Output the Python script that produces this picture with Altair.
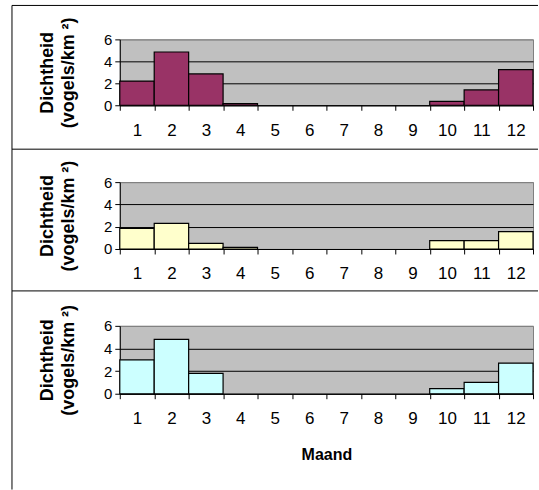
import altair as alt
import pandas as pd

# Maandelijkse dichtheid (vogels/km²) voor drie gebieden
maand = list(range(1, 13))
dichtheid_a = [2.2, 4.85, 2.85, 0.15, 0, 0, 0, 0, 0, 0.35, 1.4, 3.25]
dichtheid_b = [1.85, 2.3, 0.5, 0.15, 0, 0, 0, 0, 0, 0.75, 0.75, 1.55]
dichtheid_c = [3.0, 4.8, 1.8, 0, 0, 0, 0, 0, 0, 0.45, 1.0, 2.7]
kleuren = ["#993366", "#FFFFCC", "#CCFFFF"]

y_waarden = [0, 2, 4, 6]
x_grenzen = [m - 0.5 for m in maand] + [12.5]   # maatstrepen op de maandgrenzen
y_titel = ["Dichtheid", "(vogels/km ²)"]

FONT = "Liberation Sans"
BREEDTE = 414


def paneel(waarden, kleur, hoogte, kader_boven, kader_onder, x_titel):
    df = pd.DataFrame({"maand": maand, "dichtheid": waarden})

    x_axis = alt.Axis(
        values=x_grenzen,
        # label midden onder de maand; de rechtergrens krijgt geen label
        labelExpr="datum.value < 12 ? format(datum.value + 0.5, 'd') : ''",
        labelOffset=alt.condition("datum.value < 12", alt.value(BREEDTE / 24), alt.value(0)),
        labelFontSize=17,
        labelPadding=12,
        labelOverlap=False,
        labelFlush=False,
        tickSize=5,
        grid=False,
        titleFontSize=16,
        titleFontWeight="bold",
        titlePadding=20,
    )
    y_axis = alt.Axis(
        values=y_waarden,
        labelFontSize=15,
        labelPadding=3,
        tickSize=5,
        grid=True,
        gridColor=alt.condition("datum.value == 6", alt.value("#808080"), alt.value("black")),
        gridWidth=1,
        titleFontSize=18,
        titleFontWeight="bold",
        titleLineHeight=21,
        titlePadding=26,
    )

    x_schaal = alt.Scale(domain=[0.5, 12.5], nice=False, zero=False)
    if x_titel:
        x_enc = alt.X("begin:Q", scale=x_schaal, axis=x_axis, title=x_titel)
    else:
        x_enc = alt.X("begin:Q", scale=x_schaal, axis=x_axis, title=None)

    staven = (
        alt.Chart(df)
        .transform_filter("datum.dichtheid > 0")
        .transform_calculate(begin="datum.maand - 0.5", eind="datum.maand + 0.5")
        .mark_bar(fill=kleur, stroke="black", strokeWidth=1.2)
        .encode(
            x=x_enc,
            x2="eind:Q",
            y=alt.Y("dichtheid:Q", scale=alt.Scale(domain=[0, 6], nice=False),
                    axis=y_axis, title=y_titel),
            y2=alt.datum(0),
        )
    )

    # kader rond het paneel: bovenrand en linkerrand
    een = pd.DataFrame({"k": [0]})
    boven = alt.Chart(een).mark_rule(color="black", strokeWidth=1).encode(
        x=alt.value(-108), x2=alt.value(419), y=alt.value(kader_boven)
    )
    links = alt.Chart(een).mark_rule(color="black", strokeWidth=1).encode(
        x=alt.value(-108), y=alt.value(kader_boven), y2=alt.value(kader_onder)
    )
    return alt.layer(staven, boven, links).properties(width=BREEDTE, height=hoogte)


p1 = paneel(dichtheid_a, kleuren[0], 66, -34, 110, None)
p2 = paneel(dichtheid_b, kleuren[1], 67, -33, 109, None)
p3 = paneel(dichtheid_c, kleuren[2], 68, -35, 164, "Maand")

chart = (
    alt.vconcat(p1, p2, p3, spacing=77, bounds="flush")
    .properties(padding={"left": 11, "top": 4, "right": 0, "bottom": 0}, background="white")
    .configure_view(fill="#C0C0C0", stroke="#808080", strokeWidth=1)
    .configure_axis(
        labelFont=FONT,
        titleFont=FONT,
        labelColor="black",
        titleColor="black",
        domainColor="black",
        tickColor="black",
        domainWidth=1,
        tickWidth=1,
    )
)

chart.save("out.html", embed_options={"renderer": "svg", "actions": False})
